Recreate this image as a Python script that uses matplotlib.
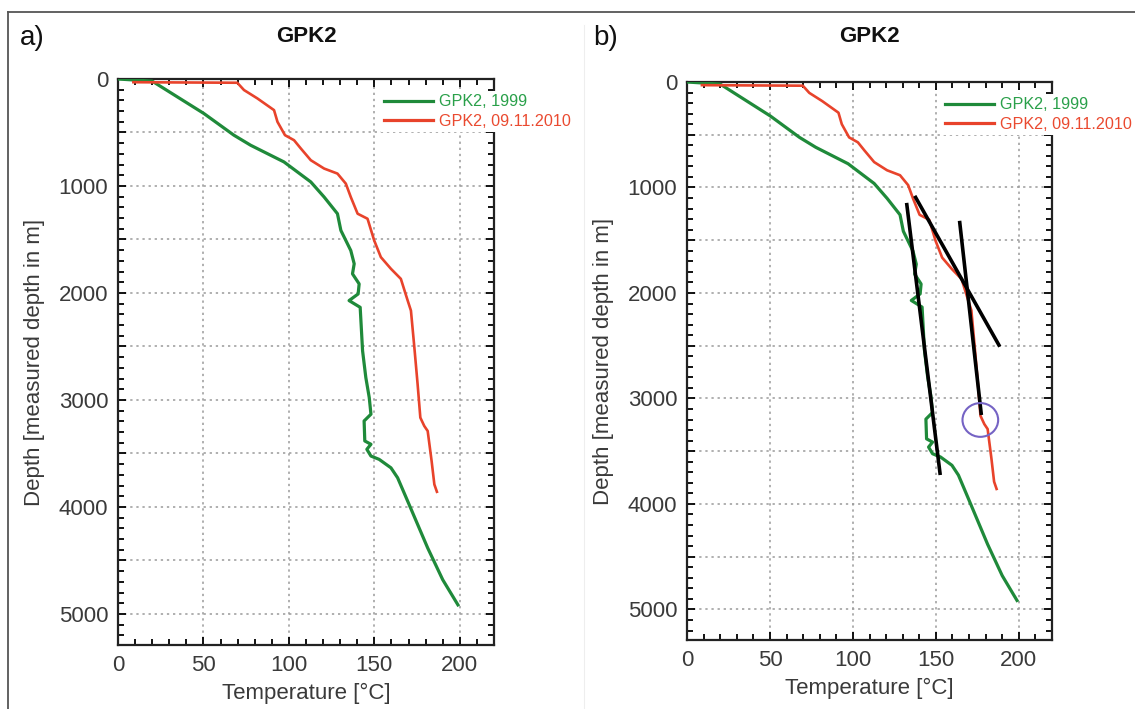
import matplotlib
matplotlib.use("Agg")
import matplotlib.pyplot as plt
from matplotlib.patches import Ellipse
from matplotlib.lines import Line2D
from matplotlib.ticker import MultipleLocator, FuncFormatter

plt.rcParams['font.family'] = ['Liberation Sans', 'DejaVu Sans']

# GPK2 temperature logs (temperature in degC, measured depth in m)
green_t = [0, 20, 34.6, 50.2, 67.8, 77.6, 97.1, 112.8, 120.6, 128.4, 130.4, 136.2, 138.2,
           137.2, 141.1, 140.5, 135.2, 141.7, 143.1, 145.0, 147.0, 148.0, 144.0, 144.4,
           148.0, 145.6, 148.0, 152.8, 159.7, 163.6, 169.5, 181.2, 190.0, 198.9]
green_d = [0, 20, 166, 322, 525, 619, 775, 962, 1103, 1259, 1415, 1603, 1727,
           1821, 1915, 2009, 2071, 2134, 2540, 2790, 2977, 3133, 3196, 3383,
           3414, 3461, 3524, 3555, 3634, 3727, 3946, 4383, 4680, 4915]

red_t = [9, 69.8, 73.7, 81.5, 91.3, 93.3, 97.7, 103, 107, 112.8, 120.6, 128.4, 133.3,
         136.2, 140.2, 146, 149.9, 153.8, 159.7, 165.5, 169.5, 171.4, 173.4, 175.3,
         176.9, 179.2, 181.2, 183.5, 185.1, 186.6]
red_d = [30, 35, 103, 181, 291, 400, 525, 572, 650, 759, 837, 884, 978,
         1103, 1259, 1306, 1509, 1665, 1774, 1868, 2071, 2165, 2509, 2852,
         3165, 3243, 3290, 3571, 3789, 3858]

labels = ['GPK2, 1999', 'GPK2, 09.11.2010']

# gradient lines drawn in panel b)
fit_t = [[132.5, 152.5], [137.8, 188.0], [164.4, 177.3]]
fit_d = [[1163, 3709], [1094, 2494], [1333, 3140]]
circle_center = (176.8, 3204)

green = '#1f8a3a'
red = '#e8432b'
txt = '#3a3a3a'

W, H = 1135, 709
fig = plt.figure(figsize=(W / 100, H / 100), dpi=100)

# outer frame and panel separator
fig.add_artist(Line2D([8/W, 1], [1-12/H, 1-12/H], color='#555555', lw=1.3))
fig.add_artist(Line2D([8/W, 8/W], [0, 1-12/H], color='#555555', lw=1.3))
fig.add_artist(Line2D([584/W, 584/W], [0, 1-25/H], color='#eeeeee', lw=0.8))

axes_pos = [[118/W, 1-645/H, 376/W, 566/H],
            [687/W, 1-640/H, 365/W, 558/H]]
panel_lbl = ['a)', 'b)']
lbl_x = [20, 593]
leg_anchor = [(381/W, 1-91/H), (942/W, 1-94/H)]

for i, pos in enumerate(axes_pos):
    ax = fig.add_axes(pos)
    ax.plot(green_t, green_d, color=green, lw=2.3, label=labels[0], zorder=3)
    ax.plot(red_t, red_d, color=red, lw=1.9, label=labels[1], zorder=3)
    ax.set_xlim(0, 220)
    ax.set_ylim(5290, 0)
    ax.xaxis.set_major_locator(MultipleLocator(50))
    ax.xaxis.set_minor_locator(MultipleLocator(10))
    ax.yaxis.set_major_locator(MultipleLocator(500))
    ax.yaxis.set_minor_locator(MultipleLocator(100))
    ax.yaxis.set_major_formatter(FuncFormatter(lambda v, p: '%d' % v if v % 1000 == 0 else ''))
    ax.tick_params(which='both', direction='in', top=True, right=True,
                   labelsize=16, labelcolor=txt, width=1.3)
    ax.tick_params(which='major', length=6, pad=7)
    ax.tick_params(which='minor', length=4)
    ax.grid(True, which='major', linestyle=(0, (1.5, 2.5)), color='#9a9a9a', lw=1.1)
    for s in ax.spines.values():
        s.set_linewidth(1.6)
        s.set_color('#222222')
    ax.set_xlabel('Temperature [°C]', fontsize=16, color=txt, labelpad=5)
    ax.set_ylabel('Depth [measured depth in m]', fontsize=16, color=txt, labelpad=10)

    if i == 1:
        for ft, fd in zip(fit_t, fit_d):
            ax.plot(ft, fd, color='black', lw=2.6, zorder=4)
        ax.add_patch(Ellipse(circle_center, 21.5, 320, fill=False,
                             edgecolor='#7563c4', lw=1.5, zorder=5))

    h, l = ax.get_legend_handles_labels()
    leg = fig.legend(h, l, loc='upper left', bbox_to_anchor=leg_anchor[i],
                     bbox_transform=fig.transFigure, fontsize=11.6,
                     handlelength=3.0, handletextpad=0.4, labelspacing=0.3,
                     borderpad=0.2, borderaxespad=0, frameon=True, fancybox=False,
                     labelcolor=['#2aa04a', '#ea4a30'])
    leg.get_frame().set_facecolor('white')
    leg.get_frame().set_edgecolor('none')
    leg.get_frame().set_alpha(1)
    for ln in leg.get_lines():
        ln.set_linewidth(2.3)

    fig.text((pos[0] + pos[2] / 2), 1 - 37/H, 'GPK2', fontsize=16, fontweight='bold',
             ha='center', va='center', color='#111111')
    fig.text(lbl_x[i]/W, 1 - 38/H, panel_lbl[i], fontsize=20, ha='left',
             va='center', color='#111111')

fig.savefig('out.png', dpi=100)
